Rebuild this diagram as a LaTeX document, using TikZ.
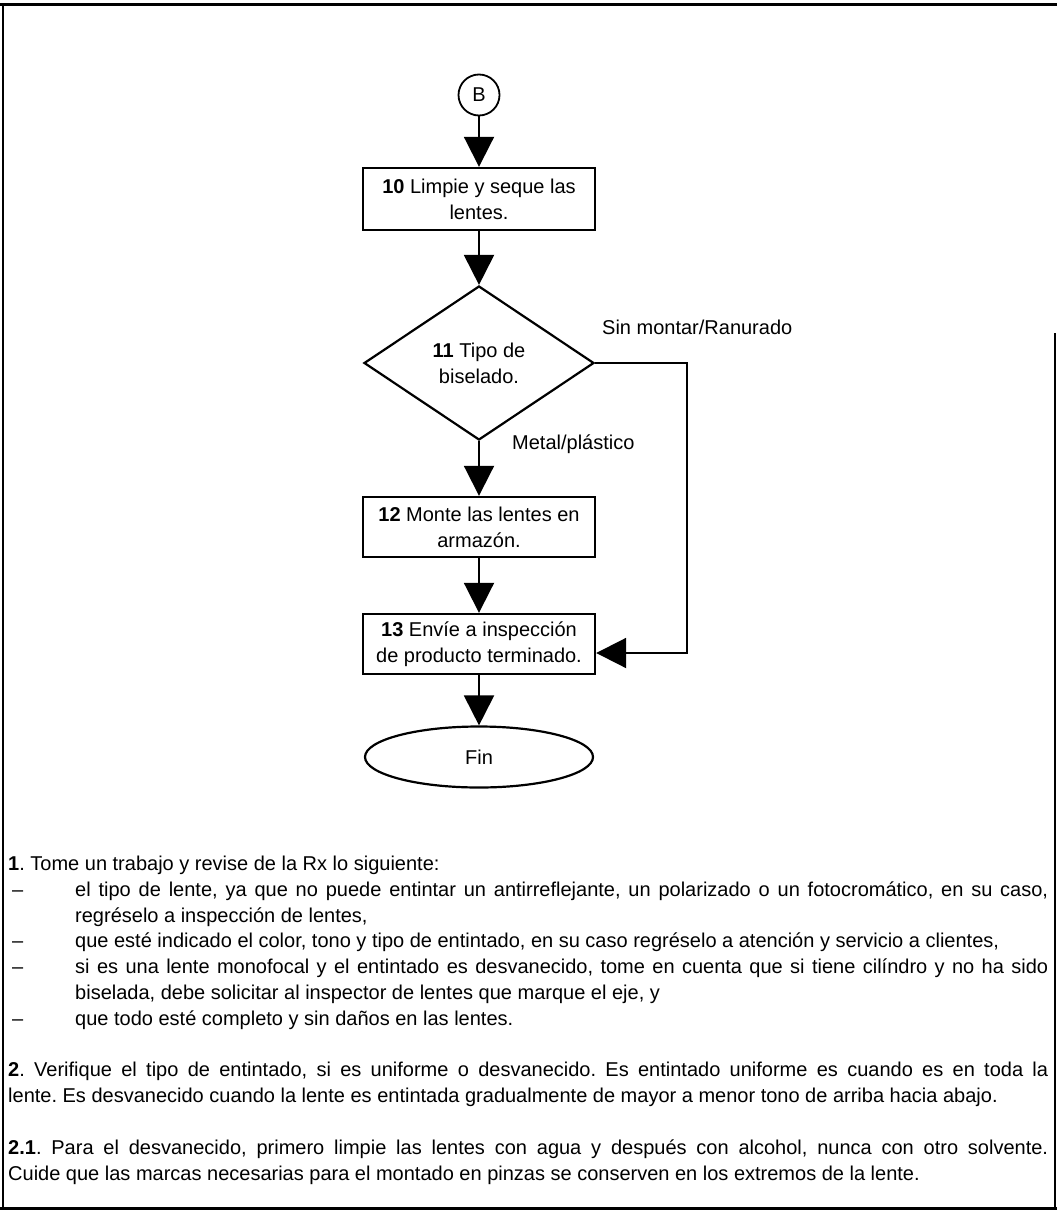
\documentclass[tikz,border=0pt]{standalone}
\usepackage{fontspec}
\setmainfont{Liberation Sans}
\usetikzlibrary{arrows.meta,shapes.geometric}
\frenchspacing
\begin{document}
\begin{tikzpicture}[x=1pt,y=-1pt,
  every node/.style={font=\fontsize{20}{26}\selectfont},
  procbox/.style={draw, line width=2.4pt, minimum width=232pt, minimum height=60pt, align=center, inner sep=0pt},
  decision/.style={draw, diamond, line width=2.2pt, minimum width=230pt, minimum height=154pt, align=center, inner sep=0pt},
  connector/.style={draw, circle, line width=1.8pt, minimum size=41pt, inner sep=0pt},
  terminal/.style={draw, ellipse, line width=2.2pt, minimum width=228pt, minimum height=61pt, inner sep=0pt},
  flow/.style={line width=2pt, -{Triangle[length=30pt,width=30pt]}},
  txt/.style={anchor=mid west, inner sep=0pt},
]
\useasboundingbox (0,0) rectangle (1057,1212);
% page frame
\draw[line width=3pt] (0,5) -- (1057,5);
\draw[line width=2pt] (3,5) -- (3,1208);
\draw[line width=3pt] (0,1208) -- (1057,1208);
\draw[line width=2pt] (1055,333) -- (1055,1208);

% flowchart
\node[connector] (B) at (479,95) {B};
\node[procbox, minimum height=62pt] (p10) at (479,199) {\textbf{10} Limpie y seque las\\lentes.};
\node[decision] (d11) at (479,363) {\textbf{11} Tipo de\\biselado.};
\node[procbox] (p12) at (479,527) {\textbf{12} Monte las lentes en\\armazón.};
\node[procbox] (p13) at (479,644) {\textbf{13} Envíe a inspección\\de producto terminado.};
\node[terminal] (fin) at (479,757) {Fin};

\node[txt] (lsin) at (602,332) {Sin montar/Ranurado};
\node[txt] (lmet) at (512,447) {Metal/plástico};

\draw[flow] (B) -- (p10);
\draw[flow] (p10) -- (d11);
\draw[flow] (d11) -- (p12);
\draw[flow] (p12) -- (p13);
\draw[flow] (p13) -- (fin);
\coordinate (bend) at (687,653);
\draw[flow] (d11.east) -| (bend) -- (bend -| p13.east);

% notes
\node[txt] (n1) at (8,868) {\textbf{1}. Tome un trabajo y revise de la Rx lo siguiente:};
\node[txt] (k1) at (12,894) {–};
\node[txt] (n1a) at (75,894) {\makebox[973pt][s]{el tipo de lente, ya que no puede entintar un antirreflejante, un polarizado o un fotocromático, en su caso,}};
\node[txt] (n1b) at (75,920) {regréselo a inspección de lentes,};
\node[txt] (k2) at (12,945) {–};
\node[txt] (n1c) at (75,945) {que esté indicado el color, tono y tipo de entintado, en su caso regréselo a atención y servicio a clientes,};
\node[txt] (k3) at (12,971) {–};
\node[txt] (n1d) at (75,971) {\makebox[973pt][s]{si es una lente monofocal y el entintado es desvanecido, tome en cuenta que si tiene cilíndro y no ha sido}};
\node[txt] (n1e) at (75,997) {biselada, debe solicitar al inspector de lentes que marque el eje, y};
\node[txt] (k4) at (12,1023) {–};
\node[txt] (n1f) at (75,1023) {que todo esté completo y sin daños en las lentes.};

\node[txt] (n2a) at (8,1074) {\makebox[1040pt][s]{\textbf{2}. Verifique el tipo de entintado, si es uniforme o desvanecido. Es entintado uniforme es cuando es en toda la}};
\node[txt] (n2b) at (8,1100) {lente. Es desvanecido cuando la lente es entintada gradualmente de mayor a menor tono de arriba hacia abajo.};

\node[txt] (n3a) at (8,1152) {\makebox[1040pt][s]{\textbf{2.1}. Para el desvanecido, primero limpie las lentes con agua y después con alcohol, nunca con otro solvente.}};
\node[txt] (n3b) at (8,1178) {Cuide que las marcas necesarias para el montado en pinzas se conserven en los extremos de la lente.};
\end{tikzpicture}
\end{document}
